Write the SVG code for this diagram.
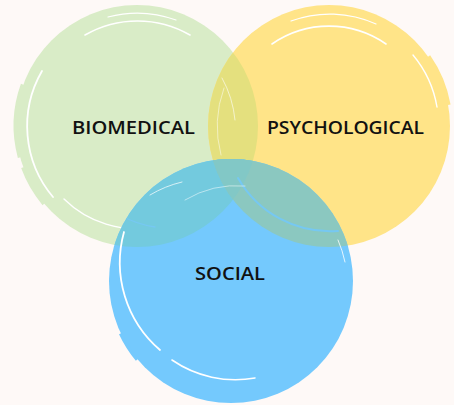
<svg xmlns="http://www.w3.org/2000/svg" width="454" height="405" viewBox="0 0 454 405">
<style>
.lbl{font-family:"Open Sans","Liberation Sans",sans-serif;font-weight:600;font-size:18px;fill:#111111}
.wa{fill:none;stroke:#ffffff;stroke-linecap:round}
.ba{fill:none;stroke:#76c8f2;stroke-linecap:round}
</style>
<defs>
<clipPath id="clipG"><circle cx="137" cy="126" r="121"/></clipPath>
<clipPath id="clipY"><circle cx="329" cy="126" r="121"/></clipPath>
<clipPath id="clipB"><circle cx="231" cy="281" r="122"/></clipPath>
</defs>
<rect width="454" height="405" fill="#fef9f7"/>

<g id="biomedical">
<circle cx="137" cy="126" r="121" fill="#d9ecc7"/>
<path d="M19.8,157.4 A121.5,121.5 0 0 1 22.8,84.5" fill="none" stroke="#d9ecc7" stroke-width="4"/>
<path d="M43.9,204 A121.5,121.5 0 0 1 22.8,167.5" fill="none" stroke="#d9ecc7" stroke-width="3.5"/>
</g>

<g id="psychological">
<circle cx="329" cy="126" r="121" fill="#ffe488"/>
<path d="M428.5,56.3 A121.5,121.5 0 0 1 448.6,104.9" fill="none" stroke="#ffe488" stroke-width="4"/>
<circle cx="329" cy="126" r="121" fill="#e4e07e" clip-path="url(#clipG)"/>
</g>

<g id="arcs-under">
<path class="wa" stroke-width="1.6" d="M85,35 A105,105 0 0 1 190,35"/>
<path class="wa" stroke-width="1.2" d="M108,17 A113,113 0 0 1 176,20"/>
<path class="wa" stroke-width="1.8" d="M53,197 A110,110 0 0 1 42,71"/>
<path class="wa" stroke-width="1.4" d="M155,227 A103,103 0 0 1 64,199"/>
<path class="wa" stroke-width="1" d="M235,120 A108,108 0 0 0 222,78" stroke-opacity="0.6"/>
<path class="wa" stroke-width="1.6" d="M272,44 A100,100 0 0 1 386,44"/>
<path class="wa" stroke-width="1.2" d="M291,21 A112,112 0 0 1 376,24"/>
<path class="wa" stroke-width="1.4" d="M413,55 A110,110 0 0 1 437,107"/>
<path class="wa" stroke-width="1" d="M221,155 A112,112 0 0 1 224,88" stroke-opacity="0.5"/>
</g>

<g id="social">
<circle cx="231" cy="281" r="122" fill="#74c9fd"/>
<circle cx="231" cy="281" r="122" fill="#73cade" clip-path="url(#clipG)"/>
<circle cx="231" cy="281" r="122" fill="#8bc8c0" clip-path="url(#clipY)"/>
<g clip-path="url(#clipG)"><circle cx="231" cy="281" r="122" fill="#82c8c6" clip-path="url(#clipY)"/></g>
<g clip-path="url(#clipB)">
<path class="ba" stroke-width="2" d="M338,231 A106,106 0 0 1 238,178"/>
<path class="ba" stroke-width="1.4" d="M155,227 A103,103 0 0 1 120,215"/>
</g>
<path d="M120.6,333.5 A122.5,122.5 0 0 0 137.2,359.7" fill="none" stroke="#74c9fd" stroke-width="3.5"/>
<path class="wa" stroke-width="1.8" d="M124,232 A115,115 0 0 0 160,350"/>
<path class="wa" stroke-width="1.6" d="M172,360 A112,112 0 0 0 255,378"/>
<path class="wa" stroke-width="1" d="M150,195 A112,112 0 0 1 182,182" stroke-opacity="0.7"/>
<path class="wa" stroke-width="1" d="M185,200 A100,100 0 0 1 245,186" stroke-opacity="0.5"/>
<path class="wa" stroke-width="1" d="M338,240 A115,115 0 0 1 345,262" stroke-opacity="0.8"/>
</g>

<g id="labels">
<text class="lbl" x="72" y="134" textLength="123" lengthAdjust="spacingAndGlyphs">BIOMEDICAL</text>
<text class="lbl" x="267" y="134" textLength="157" lengthAdjust="spacingAndGlyphs">PSYCHOLOGICAL</text>
<text class="lbl" x="195" y="280" textLength="70" lengthAdjust="spacingAndGlyphs">SOCIAL</text>
</g>
</svg>
